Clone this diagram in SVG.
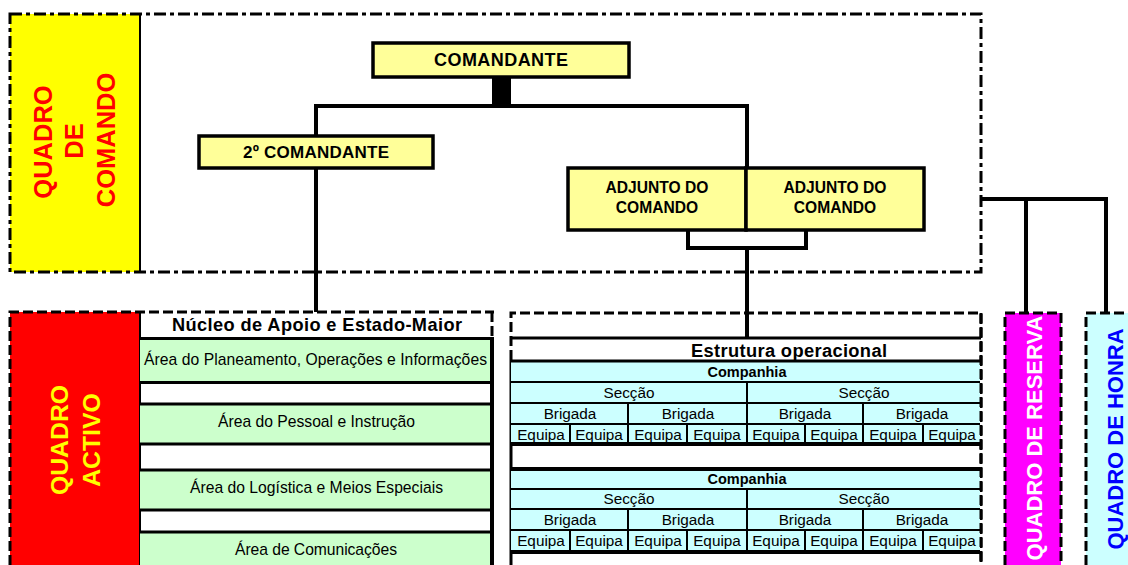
<svg xmlns="http://www.w3.org/2000/svg" width="1128" height="565" viewBox="0 0 1128 565">
<style>
text{font-family:"Liberation Sans",Arial,sans-serif;fill:#000;}
.b{font-weight:bold;}
.m{text-anchor:middle;}
.box{fill:#FFFF99;stroke:#000;stroke-width:3.5;}
.dd{fill:none;stroke:#000;stroke-width:3;stroke-dasharray:12 4 4 4;}
.da{fill:none;stroke:#000;stroke-width:3;stroke-dasharray:10 4;}
.con{fill:none;stroke:#000;stroke-width:4;}
.ln{fill:none;stroke:#000;stroke-width:2;}
.ln3{fill:none;stroke:#000;stroke-width:3;}
.ln4{fill:none;stroke:#000;stroke-width:4;}
.area{font-size:15.7px;}
.cell{font-size:15.3px;text-anchor:middle;}
.comp{font-size:14.5px;font-weight:bold;text-anchor:middle;}
.green{fill:#CCFFCC;}
.cyan{fill:#CCFFFF;}
</style>

<g id="quadro-de-comando">
  <rect x="10" y="14" width="130" height="258" fill="#FFFF00"/>
  <line x1="140" y1="14" x2="140" y2="272" class="ln"/>
  <rect x="10" y="14" width="971" height="258" class="dd"/>
  <g class="b" font-size="25.5">
    <text transform="translate(52,142) rotate(-90)" class="m" style="fill:#FF0000">QUADRO</text>
    <text transform="translate(83,141) rotate(-90)" class="m" style="fill:#FF0000">DE</text>
    <text transform="translate(115,140) rotate(-90)" class="m" style="fill:#FF0000">COMANDO</text>
  </g>
</g>

<g id="connectors">
  <rect x="492" y="77" width="19" height="29" fill="#000"/>
  <path d="M316,136 V106 H747 V168" class="con"/>
  <path d="M316,168 V312" class="con"/>
  <path d="M688,230 V248 H806 V230" class="con"/>
  <path d="M747,248 V338" class="con"/>
  <path d="M981,199 H1106 V312" class="con"/>
  <path d="M1026,199 V312" class="con"/>
</g>

<g id="comandante">
  <rect x="373" y="43" width="256" height="34" class="box"/>
  <text x="501" y="65.5" class="b m" font-size="18" textLength="134">COMANDANTE</text>
</g>

<g id="segundo-comandante">
  <rect x="199" y="136" width="234" height="32" class="box"/>
  <text x="316" y="157.5" class="b m" font-size="17" textLength="146">2º COMANDANTE</text>
</g>

<g id="adjunto-1">
  <rect x="568" y="168" width="178" height="62" class="box"/>
  <text x="657" y="193" class="b m" font-size="15.6">ADJUNTO DO</text>
  <text x="657" y="213" class="b m" font-size="15.6">COMANDO</text>
</g>

<g id="adjunto-2">
  <rect x="746" y="168" width="178" height="62" class="box"/>
  <text x="835" y="193" class="b m" font-size="15.6">ADJUNTO DO</text>
  <text x="835" y="213" class="b m" font-size="15.6">COMANDO</text>
</g>

<g id="quadro-activo">
  <rect x="10" y="312" width="130" height="253" fill="#FF0000"/>
  <line x1="140" y1="312" x2="140" y2="565" class="ln"/>
  <text transform="translate(68,440) rotate(-90)" class="b m" font-size="24.8" style="fill:#FFFF00">QUADRO</text>
  <text transform="translate(100,440) rotate(-90)" class="b m" font-size="24.8" style="fill:#FFFF00">ACTIVO</text>
</g>

<g id="nucleo-apoio">
  <text x="317" y="331" class="b m" font-size="18.2" textLength="290">Núcleo de Apoio e Estado-Maior</text>
  <rect x="140" y="338" width="352" height="44" class="green"/>
  <rect x="140" y="404" width="352" height="40" class="green"/>
  <rect x="140" y="470" width="352" height="40" class="green"/>
  <rect x="140" y="532" width="352" height="33" class="green"/>
  <path d="M140,338.5 H492 M140,382.5 H492 M140,404 H492 M140,444 H492 M140,470 H492 M140,510 H492 M140,532 H492" class="ln3"/>
  <line x1="492" y1="337" x2="492" y2="565" class="ln4"/>
  <path d="M10,565 V312 H494 M492,312 V338" class="da"/>
  <text x="144" y="365" class="area" textLength="343">Área do Planeamento, Operações e Informações</text>
  <text x="316.5" y="427" class="area m" textLength="197">Área do Pessoal e Instrução</text>
  <text x="316.5" y="493" class="area m" textLength="253">Área do Logística e Meios Especiais</text>
  <text x="316" y="555" class="area m" textLength="162">Área de Comunicações</text>
</g>

<g id="estrutura-operacional">
  <path d="M511,360 V313 H981 V565" class="da"/>
  <line x1="511" y1="338" x2="981" y2="338" class="ln3"/>
  <line x1="511" y1="360" x2="511" y2="565" class="ln3"/>
  <text x="789" y="357" class="b m" font-size="18.3" textLength="196">Estrutura operacional</text>

  <rect x="511" y="361" width="469" height="83" class="cyan"/>
  <path d="M511,361 H980" class="ln3"/>
  <path d="M511,382 H980 M511,403 H980 M511,424 H980" class="ln"/>
  <path d="M511,444 H980" class="ln4"/>
  <path d="M747,382 V444 M628,403 V444 M863,403 V444 M570,424 V444 M687,424 V444 M805,424 V444 M923,424 V444" class="ln"/>
  <text x="747" y="377" class="comp">Companhia</text>
  <text x="629" y="398" class="cell">Secção</text>
  <text x="864" y="398" class="cell">Secção</text>
  <text x="570" y="419" class="cell">Brigada</text>
  <text x="688" y="419" class="cell">Brigada</text>
  <text x="805" y="419" class="cell">Brigada</text>
  <text x="922" y="419" class="cell">Brigada</text>
  <text x="541" y="439.5" class="cell">Equipa</text>
  <text x="599" y="439.5" class="cell">Equipa</text>
  <text x="658" y="439.5" class="cell">Equipa</text>
  <text x="717" y="439.5" class="cell">Equipa</text>
  <text x="776" y="439.5" class="cell">Equipa</text>
  <text x="834" y="439.5" class="cell">Equipa</text>
  <text x="893" y="439.5" class="cell">Equipa</text>
  <text x="952" y="439.5" class="cell">Equipa</text>

  <rect x="511" y="469" width="469" height="83" class="cyan"/>
  <path d="M511,469 H980" class="ln4"/>
  <path d="M511,489 H980 M511,509 H980 M511,530 H980" class="ln"/>
  <path d="M511,552 H980" class="ln4"/>
  <path d="M747,489 V552 M628,509 V552 M863,509 V552 M570,530 V552 M687,530 V552 M805,530 V552 M923,530 V552" class="ln"/>
  <text x="747" y="484" class="comp">Companhia</text>
  <text x="629" y="504" class="cell">Secção</text>
  <text x="864" y="504" class="cell">Secção</text>
  <text x="570" y="525" class="cell">Brigada</text>
  <text x="688" y="525" class="cell">Brigada</text>
  <text x="805" y="525" class="cell">Brigada</text>
  <text x="922" y="525" class="cell">Brigada</text>
  <text x="541" y="546" class="cell">Equipa</text>
  <text x="599" y="546" class="cell">Equipa</text>
  <text x="658" y="546" class="cell">Equipa</text>
  <text x="717" y="546" class="cell">Equipa</text>
  <text x="776" y="546" class="cell">Equipa</text>
  <text x="834" y="546" class="cell">Equipa</text>
  <text x="893" y="546" class="cell">Equipa</text>
  <text x="952" y="546" class="cell">Equipa</text>
  <path d="M981,313 V565" class="da"/>
</g>

<g id="quadro-de-reserva">
  <rect x="1005" y="313" width="56" height="252" fill="#FF00FF"/>
  <path d="M1005,565 V313 H1061 V565" class="da"/>
  <text transform="translate(1042,438) rotate(-90)" class="b m" font-size="22" style="fill:#FFFFFF">QUADRO DE RESERVA</text>
</g>

<g id="quadro-de-honra">
  <rect x="1086" y="313" width="42" height="252" fill="#CCFFFF"/>
  <path d="M1086,565 V313 H1128" class="da"/>
  <text transform="translate(1123,439) rotate(-90)" class="b m" font-size="22" style="fill:#0000FF">QUADRO DE HONRA</text>
</g>
</svg>
